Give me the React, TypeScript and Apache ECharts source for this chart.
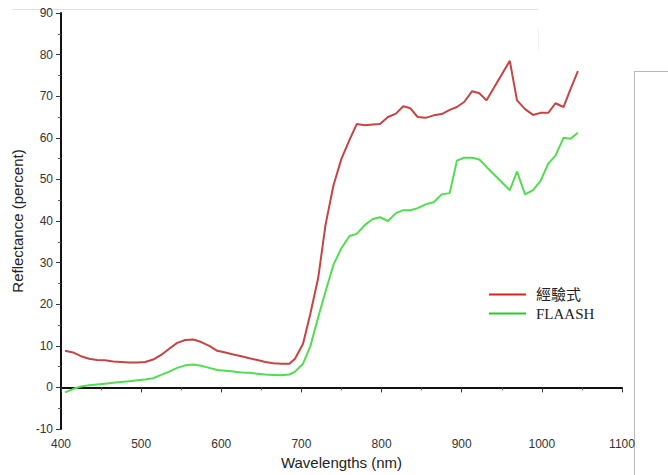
import React, { useEffect, useRef } from "react";
import * as echarts from "echarts";

const wavelengths = [
  405, 415, 425, 435, 445, 455, 465, 475, 485, 495, 505, 515, 525, 535, 545, 555, 565, 575, 585, 595,
  605, 615, 625, 635, 645, 655, 665, 675, 685, 692, 702, 711, 721, 730, 740, 750, 760, 769, 779, 789,
  798, 808, 818, 827, 836, 845, 855, 865, 875, 885, 894, 903, 913, 922, 931, 960, 969, 979, 989, 998,
  1008, 1017, 1027, 1036, 1045,
];

const empirical = [
  8.8, 8.4, 7.5, 6.9, 6.6, 6.5, 6.2, 6.1, 6.0, 6.0, 6.1, 6.7, 7.8, 9.3, 10.7, 11.4, 11.5, 10.9, 10.0, 8.8,
  8.4, 7.9, 7.5, 7.0, 6.6, 6.1, 5.8, 5.7, 5.7, 6.9, 10.5, 17.6, 26.4, 39.0, 48.6, 55.0, 59.5, 63.3, 63.0, 63.2,
  63.3, 65.0, 65.8, 67.6, 67.1, 65.0, 64.8, 65.4, 65.7, 66.7, 67.4, 68.6, 71.2, 70.7, 69.0, 78.5, 69.0, 66.9, 65.5, 66.0,
  66.0, 68.3, 67.4, 71.8, 76.0,
];

const flaash = [
  -1.2, -0.4, 0.2, 0.5, 0.7, 0.9, 1.1, 1.3, 1.5, 1.7, 1.9, 2.2, 3.0, 3.8, 4.7, 5.3, 5.5, 5.2, 4.7, 4.2,
  4.0, 3.8, 3.6, 3.5, 3.3, 3.1, 3.0, 2.9, 3.1, 3.8, 5.7, 9.8, 16.9, 23.0, 29.5, 33.5, 36.4, 36.9, 39.0, 40.5,
  40.9, 40.0, 41.9, 42.6, 42.6, 43.1, 44.0, 44.5, 46.4, 46.7, 54.5, 55.2, 55.2, 54.8, 53.0, 47.4, 51.9, 46.4, 47.4, 49.5,
  53.8, 55.7, 60.0, 59.8, 61.2,
];

const seriesNames = ["經驗式", "FLAASH"];

export default function App() {
  const ref = useRef<HTMLDivElement>(null);
  useEffect(() => {
    if (!ref.current) return;
    const chart = echarts.init(ref.current, null, { renderer: "svg" });
    const sans = "'Liberation Sans', Arial, Helvetica, sans-serif";
    const axisCommon = {
      axisLine: { show: true, lineStyle: { color: "#111", width: 2 } },
      axisTick: { show: true, length: 5, inside: false, lineStyle: { color: "#333", width: 1 } },
      minorTick: { show: true, splitNumber: 2, length: 3, lineStyle: { color: "#555", width: 1 } },
      splitLine: { show: false },
      axisLabel: { color: "#333", fontSize: 12, fontFamily: sans, formatter: (v: number) => String(v) },
      nameTextStyle: { color: "#222", fontSize: 15, fontFamily: sans },
    };
    chart.setOption({
      animation: false,
      backgroundColor: "#fff",
      grid: { left: 61, width: 561, top: 13, height: 420 },
      xAxis: {
        type: "value",
        min: 400,
        max: 1100,
        interval: 100,
        name: "Wavelengths (nm)",
        nameLocation: "middle",
        nameGap: 26,
        ...axisCommon,
        axisLabel: { ...axisCommon.axisLabel, margin: 9 },
      },
      yAxis: {
        type: "value",
        min: -10,
        max: 90,
        interval: 10,
        name: "Reflectance (percent)",
        nameLocation: "middle",
        nameGap: 36,
        ...axisCommon,
        axisLabel: { ...axisCommon.axisLabel, margin: 8 },
      },
      legend: {
        orient: "vertical",
        left: 489,
        top: 287,
        padding: 0,
        itemWidth: 37,
        itemHeight: 2,
        itemGap: 4,
        icon: "rect",
        textStyle: {
          fontFamily: "'Liberation Serif', 'Noto Sans CJK TC', serif",
          fontSize: 15,
          color: "#222",
          padding: [0, 0, 0, 5],
        },
        data: [
          { name: seriesNames[0], itemStyle: { color: "#d42424" } },
          { name: seriesNames[1], itemStyle: { color: "#26cc26" } },
        ],
      },
      series: [
        {
          name: seriesNames[0],
          type: "line",
          showSymbol: false,
          symbol: "none",
          data: wavelengths.map((w, i) => [w, empirical[i]]),
          lineStyle: { color: "#c54444", width: 2 },
          itemStyle: { color: "#c54444" },
        },
        {
          name: seriesNames[1],
          type: "line",
          showSymbol: false,
          symbol: "none",
          data: wavelengths.map((w, i) => [w, flaash[i]]),
          lineStyle: { color: "#52dc52", width: 2 },
          itemStyle: { color: "#52dc52" },
        },
      ],
      graphic: [
        { type: "line", shape: { x1: 12, y1: 9.5, x2: 538, y2: 9.5 }, style: { stroke: "#e2e2e2", lineWidth: 1 } },
        { type: "line", shape: { x1: 538.5, y1: 28, x2: 538.5, y2: 50 }, style: { stroke: "#f0f0f0", lineWidth: 1 } },
        { type: "line", shape: { x1: 634.5, y1: 71, x2: 634.5, y2: 475 }, style: { stroke: "#b8b8b8", lineWidth: 1 } },
        { type: "line", shape: { x1: 634.5, y1: 71.5, x2: 668, y2: 71.5 }, style: { stroke: "#b8b8b8", lineWidth: 1 } },
      ],
    });
    return () => chart.dispose();
  }, []);
  return <div ref={ref} style={{ width: 668, height: 475, position: "absolute", left: 0, top: 0 }} />;
}
